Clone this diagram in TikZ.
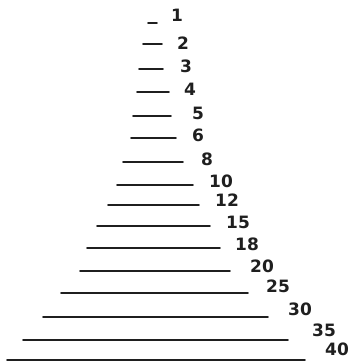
\documentclass[tikz,border=0pt]{standalone}
\usepackage{fontspec}
\setmainfont{DejaVu Sans}
\begin{document}
\begin{tikzpicture}[x=1pt,y=-1pt,
  rung/.style={line width=1.9pt,line cap=round,color=black!88},
  num/.style={font=\bfseries\fontsize{17}{17}\selectfont,inner sep=0pt,text=black!88}]
\fill[white] (0,0) rectangle (357,364);
\useasboundingbox (0,0) rectangle (357,364);
\foreach \n/\xa/\xb/\y/\lx/\ly in {
 1/148/157/23/177/15,
 2/143/162/44/183/43,
 3/139/163/69/186/66,
 4/137/169/92/190/89,
 5/133/171/116/198/113,
 6/131/176/138/198/135,
 8/123/183/162/207/159,
 10/117/193/185/221/181,
 12/108/199/205/227/200,
 15/97/210/226/238/222,
 18/87/220/248/247/244,
 20/80/230/271/262/266,
 25/61/248/293/278/286,
 30/43/268/317/300/309,
 35/23/288/340/324/330,
 40/7/305/360/337/349}{
  \coordinate (l\n) at (\xa,\y);
  \coordinate (r\n) at (\xb,\y);
  \draw[rung] (l\n) -- (r\n);
  \node[num] (t\n) at (\lx,\ly) {\n};
}
\end{tikzpicture}
\end{document}
